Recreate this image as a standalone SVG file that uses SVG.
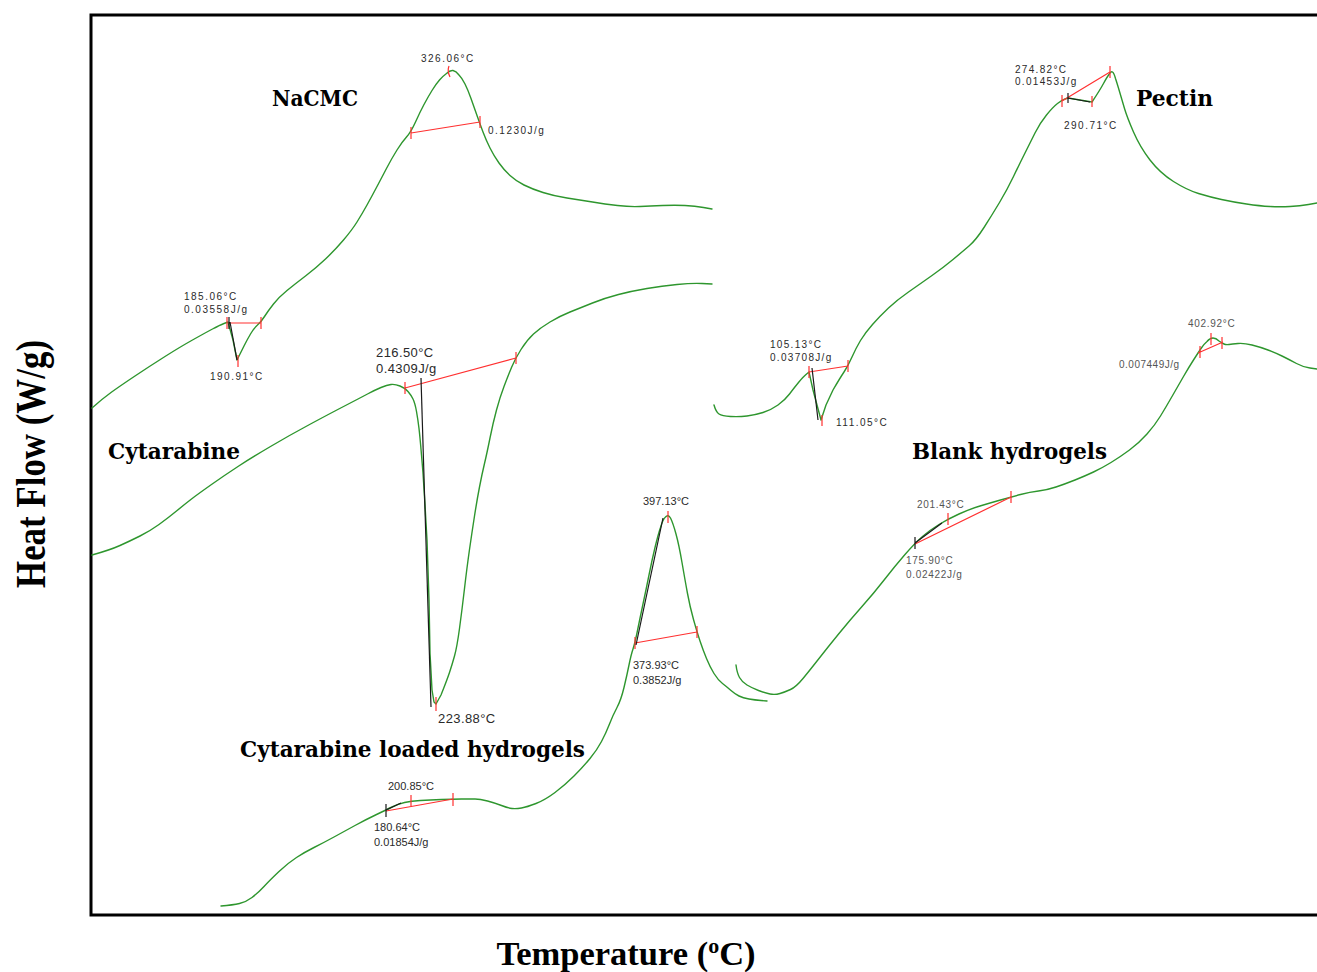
<svg xmlns="http://www.w3.org/2000/svg" width="1317" height="972" viewBox="0 0 1317 972">
<style>
.curve{fill:none;stroke:#2e962e;stroke-width:1.4;stroke-linejoin:round;stroke-linecap:round}
.red{fill:none;stroke:#ff3030;stroke-width:1.2}
.blk{fill:none;stroke:#1a1a1a;stroke-width:1.2}
.sm{font-family:"Liberation Sans",Arial,sans-serif;font-size:10px;letter-spacing:1.5px;fill:#2a2a2a}
.md{font-family:"Liberation Sans",Arial,sans-serif;font-size:11px;fill:#2a2a2a}
.lg{font-family:"Liberation Sans",Arial,sans-serif;font-size:13px;letter-spacing:0.4px;fill:#2a2a2a}
.gy{font-family:"Liberation Sans",Arial,sans-serif;font-size:10px;letter-spacing:0.7px;fill:#555}
.name{font-family:"DejaVu Serif",serif;font-weight:bold;font-size:22px;fill:#000}
.axis{font-family:"Liberation Serif","Times New Roman",serif;font-weight:bold;fill:#000}
</style>
<rect width="1317" height="972" fill="#fff"/>
<g id="frame"><path d="M1317,15 H91 V915 H1317" fill="none" stroke="#000" stroke-width="3"/></g>
<g id="axis-labels">
<text class="axis" font-size="42" transform="translate(45,464) rotate(-90)" text-anchor="middle" textLength="248" lengthAdjust="spacingAndGlyphs">Heat Flow (W/g)</text>
<text class="axis" font-size="34.5" x="626" y="965" text-anchor="middle">Temperature (<tspan font-size="22" dy="-12">o</tspan><tspan dy="12">C)</tspan></text>
</g>
<g id="connectors">
<g id="nacmc-curve"><path class="curve" d="M92,408 Q102,399 111,392.5 Q120,386 135,376 Q150,366 165,356.5 Q180,347 192.5,340 Q205,333 212.5,329 Q220,325 224,323.5 L228,322 L233,340 L237,360 Q241,352 244,346 Q247,340 250.5,334 Q254,328 257.5,325 Q261,322 264.5,316.5 Q268,311 273.5,304 Q279,297 287,290.5 Q295,284 305.5,276 Q316,268 325.5,259 Q335,250 343.5,240 Q352,230 357,222 Q362,214 367,205 Q372,196 377,186.5 Q382,177 387,167.5 Q392,158 397,150 Q402,142 406.5,137 Q411,132 415.5,122 Q420,112 424,104.5 Q428,97 432,90.5 Q436,84 439.5,80 Q443,76 446.5,73.5 Q450,70 453,70.5 Q456,71 459,75 Q462,78 465,84 Q468,90 471,98.5 Q474,107 477,115.5 Q480,124 483,132 Q486,140 490,148 Q494,156 499,163 Q504,170 510,175.5 Q516,181 524,185 Q532,189 543,192.5 Q554,196 567,198 Q580,200 592.5,202 Q605,204 617.5,205.5 Q630,207 640,206.5 Q650,206 662.5,205.5 Q675,205 685,205.5 Q695,206 703.5,207.5 L712,209"/></g>
<g id="cytarabine-curve"><path class="curve" d="M92,555 Q110,550 120,545.5 Q130,541 140,536 Q150,531 159,524.5 Q168,518 176.5,511 Q185,504 191.5,499 Q198,494 211.5,484.5 Q225,475 238,466.5 Q251,458 270.5,446.5 Q290,435 310.5,424 Q331,413 345.5,405.5 Q360,398 367.5,394 Q375,390 381,387.5 Q387,385 391,384.5 Q395,384 400,386 Q405,388 408,391.5 Q411,395 413,399 Q415,403 416.5,411.5 Q418,420 419,428.5 Q420,437 421.5,455 L423,473 L425,505 L427,540 L429,600 L430,653 L432,690 L434,702 L436,704 L441,695 Q447,680 449.5,672.5 Q452,665 454.5,656 Q457,647 459.5,628.5 Q462,610 464.5,588.5 Q467,567 469.5,549.5 Q472,532 474.5,516 Q477,500 479.5,487 Q482,474 484.5,463.5 Q487,453 490,438 Q493,423 496.5,410 Q500,397 504,386.5 Q508,376 511.5,367.5 Q515,359 521,349.5 Q527,340 533.5,334 Q540,328 550,322 Q560,316 570,312 Q580,308 592.5,303 Q605,298 618.5,294.5 Q632,291 647,288.5 Q662,286 677,284.5 Q692,283 702,283.5 L712,284"/></g>
<g id="loaded-curve"><path class="curve" d="M221,906 Q233,905 239.5,903.5 Q246,902 252,897.5 Q258,893 264,886.5 Q270,880 279,871.5 Q288,863 296.5,857.5 Q305,852 314,847.5 Q323,843 334,837 Q345,831 355,825.5 Q365,820 375.5,815 Q386,810 392,807 Q398,804 404.5,802.5 Q411,801 420.5,800.5 Q430,800 441.5,799.5 Q453,799 461.5,799 Q470,799 475,799 Q480,799 487.5,801 Q495,803 501.5,805.5 Q508,808 512,808.5 Q516,809 521.5,808 Q527,807 536,803.5 Q545,800 555,792.5 Q565,785 574,776 Q583,767 590,758.5 Q597,750 601.5,741.5 Q606,733 609.5,724 Q613,715 617,707.5 Q621,700 624,687.5 Q627,675 629,665 Q631,655 633,649 Q635,643 637.5,630.5 Q640,618 643,604 Q646,590 649,575 Q652,560 655,547.5 Q658,535 660.5,527.5 Q663,519 665.5,517 Q668,514 670.5,518 Q673,523 676,534 Q679,545 682,562.5 Q685,580 687.5,593.5 Q690,607 693.5,619.5 Q697,632 700,641 Q703,650 706.5,658.5 Q710,667 714,673.5 Q718,680 722.5,683.5 Q727,687 731,690.5 Q735,694 739,696 Q743,698 749,699 Q755,700 761,700.5 L767,701"/></g>
<g id="pectin-curve"><path class="curve" d="M714,405 Q716,412 719,414 Q722,416 730.5,416.5 Q739,417 747,416 Q755,415 763,412.5 Q771,410 778,405 Q785,400 789.5,394 Q794,388 798.5,382.5 Q803,377 806,374.5 L809,372 L813,390 L817,405 L821,420 L826,405 L833,390 Q840,378 844,372 Q848,366 852,357 Q856,348 860.5,340.5 Q865,333 872.5,324.5 Q880,316 888.5,308 Q897,300 908.5,292 Q920,284 932,275.5 Q944,267 953,259.5 Q962,252 969,246 Q976,240 984,227.5 Q992,215 999.5,202.5 Q1007,190 1013.5,176.5 Q1020,163 1025,153 Q1030,143 1035,133 Q1040,123 1046.5,115 Q1053,107 1057.5,103.5 Q1062,100 1065,99 L1068,98 L1080,100 L1092,102 Q1100,90 1103.5,83.5 Q1107,77 1109,74.5 Q1111,71 1112.5,72 Q1114,73 1115.5,78.5 Q1117,83 1119.5,91.5 Q1122,100 1124.5,108.5 Q1127,117 1133.5,132 Q1140,147 1150,160 Q1160,173 1173.5,181.5 Q1187,190 1198.5,193.5 Q1210,197 1221.5,199.5 Q1233,202 1246.5,204 Q1260,206 1270,206.5 Q1280,207 1290,206.5 Q1300,206 1308.5,204.5 L1317,203"/></g>
<g id="blank-curve"><path class="curve" d="M736,665 Q737,673 739.5,677.5 Q742,682 747,685 Q752,688 758.5,690.5 Q765,693 770,694 Q775,695 780,693.5 Q785,692 790.5,689.5 Q796,687 803,678.5 Q810,670 819,658.5 Q828,647 839,633.5 Q850,620 862,606.5 Q874,593 884.5,579.5 Q895,566 905,554.5 Q915,543 922.5,536.5 Q930,530 939,524.5 Q948,519 959,514 Q970,509 980,506 Q990,503 1000.5,500 Q1011,497 1020.5,494.5 Q1030,492 1038.5,491 Q1047,490 1056,487 Q1065,484 1075,480 Q1085,476 1093.5,472 Q1102,468 1111,462.5 Q1120,457 1129.5,450 Q1139,443 1147,434 Q1155,425 1160.5,416 Q1166,407 1172,396.5 Q1178,386 1183.5,376.5 Q1189,367 1193.5,360 Q1198,353 1201,348.5 Q1204,344 1207,341.5 Q1210,338 1213,338 Q1216,338 1219,341 Q1222,343 1224,344 Q1226,345 1229,344.5 Q1232,344 1238,343.5 Q1244,343 1252,345 Q1260,347 1268,350 Q1276,353 1283,356.5 Q1290,360 1296.5,363.5 Q1303,367 1310,368 L1317,369"/></g>
<g id="nacmc-marks">
<path class="red" d="M228,323 H261 M227,317 V329 M261,317 V329 M238,355 V367 M411,133 L480,122 M411,127 V139 M480,116 V128 M449,66 Q447,71 450,77"/>
<path class="blk" d="M230,322 L237,360 M229,317 V329"/>
</g>
<g id="cytarabine-marks">
<path class="red" d="M405,388 L516,358 M405,382 V394 M516,352 V364 M436,697 V711"/>
<path class="blk" d="M421,378 L431,707"/>
</g>
<g id="loaded-marks">
<path class="red" d="M386,811 L453,799 M411,795 V807 M453,793 V806 M635,643 L697,632 M635,637 V649 M697,626 V638 M668,511 V523"/>
<path class="blk" d="M386,810 L401,803 M386,804 V817 M636,645 L663,518"/>
</g>
<g id="pectin-marks">
<path class="red" d="M809,372 L848,366 M809,366 V378 M848,360 V372 M822,415 V426 M1062,101 L1110,72 M1062,95 V107 M1092,96 V107 M1110,66 V78"/>
<path class="blk" d="M812,368 L818,420 M1068,98 L1090,102 M1068,93 V103"/>
</g>
<g id="blank-marks">
<path class="red" d="M915,544 L1011,497 M948,513 V525 M1011,491 V503 M1198,353 L1223,342 M1200,346 V358 M1211,333 V345 M1222,337 V349"/>
<path class="blk" d="M915,543 L942,523 M915,537 V549"/>
</g>
</g>
<g id="label-nacmc">
<text class="name" x="272" y="106" textLength="86" lengthAdjust="spacingAndGlyphs">NaCMC</text>
<text class="sm" x="421" y="62">326.06°C</text>
<text class="sm" x="488" y="134">0.1230J/g</text>
<text class="sm" x="184" y="300">185.06°C</text>
<text class="sm" x="184" y="313">0.03558J/g</text>
<text class="sm" x="210" y="380">190.91°C</text>
</g>
<g id="label-cytarabine">
<text class="name" x="108" y="459" textLength="132" lengthAdjust="spacingAndGlyphs">Cytarabine</text>
<text class="lg" x="376" y="357">216.50°C</text>
<text class="lg" x="376" y="373">0.4309J/g</text>
<text class="lg" x="438" y="723">223.88°C</text>
</g>
<g id="label-loaded">
<text class="name" x="240" y="757" textLength="345" lengthAdjust="spacingAndGlyphs">Cytarabine loaded hydrogels</text>
<text class="md" x="643" y="505">397.13°C</text>
<text class="md" x="633" y="669">373.93°C</text>
<text class="md" x="633" y="684">0.3852J/g</text>
<text class="md" x="388" y="790">200.85°C</text>
<text class="md" x="374" y="831">180.64°C</text>
<text class="md" x="374" y="846">0.01854J/g</text>
</g>
<g id="label-pectin">
<text class="name" x="1136" y="106" textLength="77" lengthAdjust="spacingAndGlyphs">Pectin</text>
<text class="sm" x="1015" y="73" style="letter-spacing:1.3px">274.82°C</text>
<text class="sm" x="1015" y="85" style="letter-spacing:1.3px">0.01453J/g</text>
<text class="sm" x="1064" y="129">290.71°C</text>
<text class="sm" x="770" y="348" style="letter-spacing:1.3px">105.13°C</text>
<text class="sm" x="770" y="361" style="letter-spacing:1.3px">0.03708J/g</text>
<text class="sm" x="836" y="426">111.05°C</text>
</g>
<g id="label-blank">
<text class="name" x="912" y="459" textLength="195" lengthAdjust="spacingAndGlyphs">Blank hydrogels</text>
<text class="gy" x="1188" y="327">402.92°C</text>
<text class="gy" x="1119" y="368" style="letter-spacing:0.5px">0.007449J/g</text>
<text class="gy" x="917" y="508">201.43°C</text>
<text class="gy" x="906" y="564">175.90°C</text>
<text class="gy" x="906" y="578">0.02422J/g</text>
</g>
</svg>
